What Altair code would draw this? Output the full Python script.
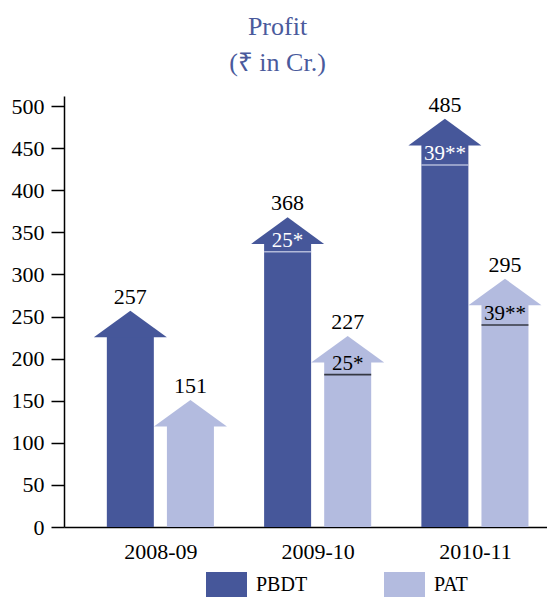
import altair as alt
import pandas as pd

years = ["2008-09", "2009-10", "2010-11"]
series_names = ["PBDT", "PAT"]
pbdt = [257, 368, 485]
pat = [151, 227, 295]
pbdt_note = [None, "25*", "39**"]
pat_note = [None, "25*", "39**"]
pbdt_mark = [None, 327, 430]
pat_mark = [None, 181, 240]

DARK = "#46579a"
LIGHT = "#b3bbdf"
FONT = "Liberation Serif"

rows = []
for i, y in enumerate(years):
    rows.append(dict(year=y, idx=i, series="PBDT", value=pbdt[i], note=pbdt_note[i], mark=pbdt_mark[i]))
    rows.append(dict(year=y, idx=i, series="PAT", value=pat[i], note=pat_note[i], mark=pat_mark[i]))
df = pd.DataFrame(rows)

label_expr = "[" + ",".join("'%s'" % y for y in years) + "][datum.value]"

x_enc = alt.X("xpos:Q",
              scale=alt.Scale(domain=[-0.581, 2.4265], nice=False, zero=False),
              axis=alt.Axis(values=[0, 1, 2], labelExpr=label_expr, ticks=False, grid=False,
                            title=None, labelFont=FONT, labelFontSize=22, labelColor="black",
                            labelPadding=14, domainColor="black", domainWidth=1.5))
y_scale = alt.Scale(domain=[0, 512], nice=False)
y_axis = alt.Axis(values=list(range(0, 501, 50)), grid=False, title=None, labelFont=FONT,
                  labelFontSize=22, labelColor="black", tickSize=13, tickWidth=1.5,
                  tickColor="black", domainColor="black", domainWidth=1.5, labelPadding=7)

color = alt.Color("series:N",
                  scale=alt.Scale(domain=series_names, range=[DARK, LIGHT]),
                  legend=alt.Legend(title=None, orient="none", legendX=150, legendY=476,
                                    direction="horizontal",
                                    symbolType="M-1.64,-1H1.64V1H-1.64Z", symbolSize=625,
                                    symbolStrokeWidth=0, symbolOpacity=1,
                                    labelFont=FONT, labelFontSize=20, labelColor="black",
                                    labelOffset=17, columnPadding=76))

base = alt.Chart(df).transform_calculate(
    xpos="datum.idx + (datum.series == 'PBDT' ? -0.191 : 0.191)",
    body_top="datum.value - 30",
)

body = base.mark_bar(width=47).encode(
    x=x_enc,
    y=alt.Y("body_top:Q", scale=y_scale, axis=y_axis),
    y2=alt.datum(0),
    color=color,
)

head = base.mark_point(shape="M-1,0.731L0,0L1,0.731Z", size=5329, filled=True,
                       opacity=1, strokeWidth=0).encode(
    x="xpos:Q",
    y="value:Q",
    color=alt.Color("series:N"),
)

values = base.mark_text(font=FONT, fontSize=22, color="black", baseline="alphabetic",
                        dy=-7).encode(
    x="xpos:Q", y="value:Q", text="value:Q")

notes_base = base.transform_filter("datum.mark != null")

lines = notes_base.mark_tick(orient="horizontal", size=47, thickness=1.6).encode(
    x="xpos:Q", y="mark:Q",
    color=alt.condition("datum.series == 'PBDT'", alt.value("#dfe3f3"), alt.value("black")))

notes = notes_base.mark_text(font=FONT, fontSize=21, baseline="alphabetic", dy=-5).encode(
    x="xpos:Q", y="mark:Q", text="note:N",
    color=alt.condition("datum.series == 'PBDT'", alt.value("white"), alt.value("black")))

chart = alt.layer(body, head, values, lines, notes).properties(
    width=483, height=431,
    title=alt.TitleParams(text=["Profit", "(₹ in Cr.)"], font=FONT, fontSize=26,
                          fontWeight="normal", color="#4a5a9c", lineHeight=36,
                          anchor="middle", dx=-28, offset=18),
    padding={"left": 3, "top": 5, "right": 0, "bottom": 0},
).configure_view(stroke=None)

chart.save("out.html", embed_options={"renderer": "svg", "actions": False})
